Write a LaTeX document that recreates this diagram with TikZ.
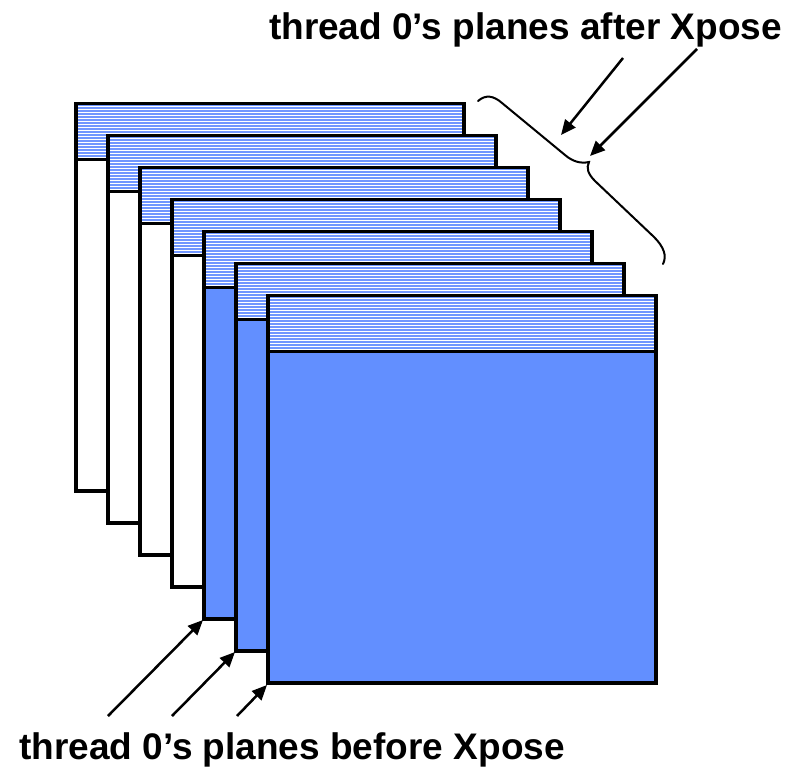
\documentclass[tikz,border=0pt]{standalone}
\usepackage{fontspec}
\setmainfont{Liberation Sans}
\usetikzlibrary{arrows.meta}
\definecolor{bodyblue}{RGB}{98,143,255}
\definecolor{stripeblue}{RGB}{112,150,255}
\begin{document}
\begin{tikzpicture}[x=1pt,y=-1pt,
  planeedge/.style={line width=3.5pt, line join=miter, line cap=rect},
  stripe/.style={stripeblue, line width=1.6pt},
  pointer/.style={line width=2.5pt, -{Triangle[length=15pt,width=13pt]}},
  bracket/.style={line width=2pt, line cap=round},
  lbl/.style={font=\fontsize{37}{44}\selectfont\bfseries, inner sep=0pt}]
\useasboundingbox (0,0) rectangle (802,768);
\foreach \i in {0,...,6}{
  \pgfmathsetmacro\xl{76+32*\i}
  \pgfmathsetmacro\xr{464+32*\i}
  \pgfmathsetmacro\yt{103.5+32*\i}
  \pgfmathsetmacro\yb{491+32*\i}
  \pgfmathsetmacro\ys{\yt+56}
  \def\bc{white}\ifnum\i>3 \def\bc{bodyblue}\fi
  \fill[\bc] (\xl,\yt) rectangle (\xr,\yb);
  \fill[white] (\xl,\yt) rectangle (\xr,\ys);
  \foreach \k in {0,...,18}{
    \draw[stripe] (\xl,\yt+1.5+3*\k) -- (\xr,\yt+1.5+3*\k);
  }
  \draw[planeedge] (\xl,\yt) rectangle (\xr,\yb);
  \draw[planeedge] (\xl,\ys) -- (\xr,\ys);
}
% curly bracket
\draw[bracket] (478,101) .. controls (486,94) and (494,96) .. (502,103)
  -- (565,155) .. controls (572,161) and (580,164) .. (589,162)
  .. controls (586,168) and (588,174) .. (595,181)
  -- (654,237) .. controls (664,247) and (667,256) .. (663,264);
% labels
\node[lbl, anchor=base east] (after) at (782,40) {thread 0’s planes after Xpose};
\node[lbl, anchor=base east] (before) at (565,759) {thread 0’s planes before Xpose};
% arrow coordinates
\coordinate (a1s) at (623,58);
\coordinate (a1e) at (561,135);
\coordinate (a2s) at (697,49);
\coordinate (a2e) at (590,156);
\coordinate (b1s) at (108,716);
\coordinate (b1e) at (203,620);
\coordinate (b2s) at (172,716);
\coordinate (b2e) at (235,652);
\coordinate (b3s) at (237,716);
\coordinate (b3e) at (267,685);
\draw[pointer] (a1s) -- (a1e);
\draw[pointer] (a2s) -- (a2e);
\draw[pointer] (b1s) -- (b1e);
\draw[pointer] (b2s) -- (b2e);
\draw[pointer] (b3s) -- (b3e);
\end{tikzpicture}
\end{document}
